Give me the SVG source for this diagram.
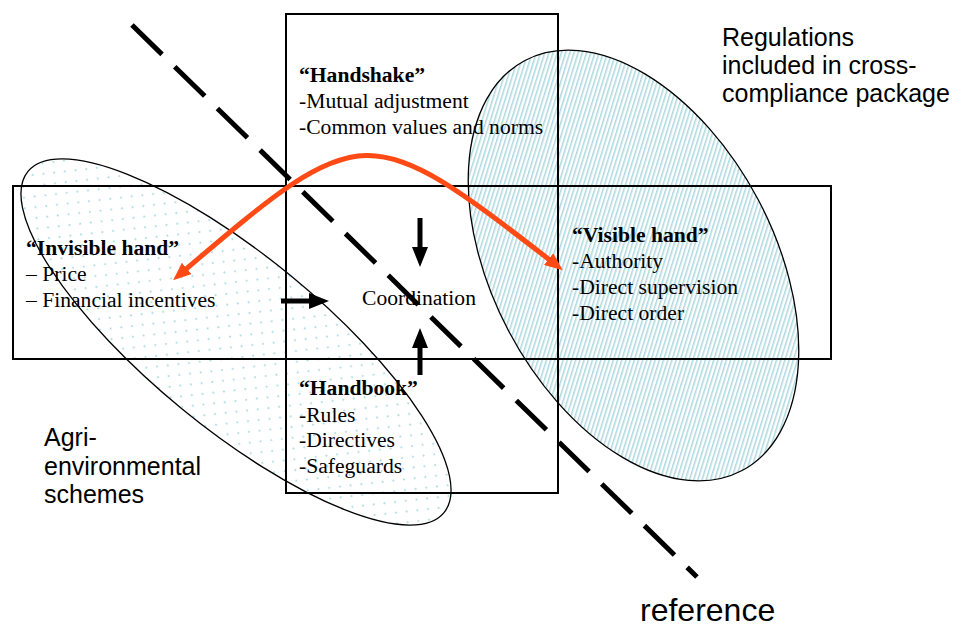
<svg xmlns="http://www.w3.org/2000/svg" width="953" height="629" viewBox="0 0 953 629">
  <style>
    .serif { font-family: "Liberation Serif", "Times New Roman", serif; font-size: 21.6px; fill: #000; }
    .bold { font-weight: bold; }
    .sans { font-family: "Liberation Sans", Arial, sans-serif; font-size: 25px; fill: #000; }
    .frame { fill: none; stroke: #000; stroke-width: 2; }
    .outline { stroke: #000; stroke-width: 1.3; }
    .blackArrow { fill: none; stroke: #000; stroke-width: 5; }
  </style>
  <defs>
    <pattern id="dots" width="15" height="15.4" patternUnits="userSpaceOnUse">
      <circle cx="3" cy="3" r="1" fill="#a6d8e2"/>
      <circle cx="10.5" cy="10.7" r="1" fill="#a6d8e2"/>
    </pattern>
    <pattern id="hatch" width="4" height="4" patternUnits="userSpaceOnUse" patternTransform="rotate(-45)">
      <rect width="1.5" height="4" fill="#add8df"/>
    </pattern>
    <marker id="headOrange" viewBox="0 0 18 15" refX="3" refY="7.5" markerWidth="18" markerHeight="15" markerUnits="userSpaceOnUse" orient="auto-start-reverse">
      <path d="M0,0 L18,7.5 L0,15 z" fill="#ff4a16"/>
    </marker>
    <marker id="headBlack" viewBox="0 0 20 16" refX="1" refY="8" markerWidth="20" markerHeight="16" markerUnits="userSpaceOnUse" orient="auto">
      <path d="M0,0 L20,8 L0,16 z" fill="#000"/>
    </marker>
  </defs>

  <!-- Agri-environmental schemes (dotted ellipse) -->
  <g id="agri-environmental">
    <ellipse cx="236" cy="342" rx="269" ry="86" transform="rotate(39.35 236 342)" fill="url(#dots)" class="outline"/>
    <text class="sans" x="44" y="446">Agri-</text>
    <text class="sans" x="44" y="475">environmental</text>
    <text class="sans" x="44" y="503">schemes</text>
  </g>

  <!-- Cross-compliance regulations (hatched ellipse) -->
  <g id="cross-compliance">
    <ellipse cx="633.5" cy="265.5" rx="232" ry="141" transform="rotate(62.1 633.5 265.5)" fill="url(#hatch)" class="outline"/>
    <text class="sans" x="722" y="46">Regulations</text>
    <text class="sans" x="722" y="74">included in cross-</text>
    <text class="sans" x="722" y="102">compliance package</text>
  </g>

  <!-- Coordination label with its white backing -->
  <g id="coordination">
    <rect x="350" y="280" width="130" height="45" fill="#fff"/>
    <text class="serif" x="362" y="305">Coordination</text>
  </g>

  <!-- Cross-shaped frames -->
  <g id="frames">
    <rect class="frame" x="286" y="14" width="272" height="479"/>
    <rect class="frame" x="13" y="186" width="818" height="173"/>
  </g>

  <g id="connectors">
    <!-- reference line -->
    <path d="M132,25 L697,577" stroke="#000" stroke-width="5" stroke-dasharray="42 17.7" fill="none"/>
    <!-- market / hierarchy arc -->
    <path d="M184.5,270.4 C363,118 368,119.5 551,261" fill="none" stroke="#ff4a16" stroke-width="5" marker-start="url(#headOrange)" marker-end="url(#headOrange)"/>
    <!-- arrows toward coordination -->
    <path class="blackArrow" d="M420,218 L420,248" marker-end="url(#headBlack)"/>
    <path class="blackArrow" d="M420,375 L420,347" marker-end="url(#headBlack)"/>
    <path class="blackArrow" d="M281,301 L310,301" marker-end="url(#headBlack)"/>
  </g>

  <g id="handshake">
    <text class="serif bold" x="299" y="82">“Handshake”</text>
    <text class="serif" x="299" y="108">-Mutual adjustment</text>
    <text class="serif" x="299" y="134">-Common values and norms</text>
  </g>

  <g id="invisible-hand">
    <text class="serif bold" x="26" y="255">“Invisible hand”</text>
    <text class="serif" x="26" y="281">– Price</text>
    <text class="serif" x="26" y="307">– Financial incentives</text>
  </g>

  <g id="visible-hand">
    <text class="serif bold" x="572" y="242">“Visible hand”</text>
    <text class="serif" x="572" y="268">-Authority</text>
    <text class="serif" x="572" y="294">-Direct supervision</text>
    <text class="serif" x="572" y="320">-Direct order</text>
  </g>

  <g id="handbook">
    <text class="serif bold" x="299" y="395">“Handbook”</text>
    <text class="serif" x="299" y="422">-Rules</text>
    <text class="serif" x="299" y="447">-Directives</text>
    <text class="serif" x="299" y="473">-Safeguards</text>
  </g>

  <g id="reference">
    <text class="sans" x="640" y="621" style="font-size:32px">reference</text>
  </g>
</svg>
